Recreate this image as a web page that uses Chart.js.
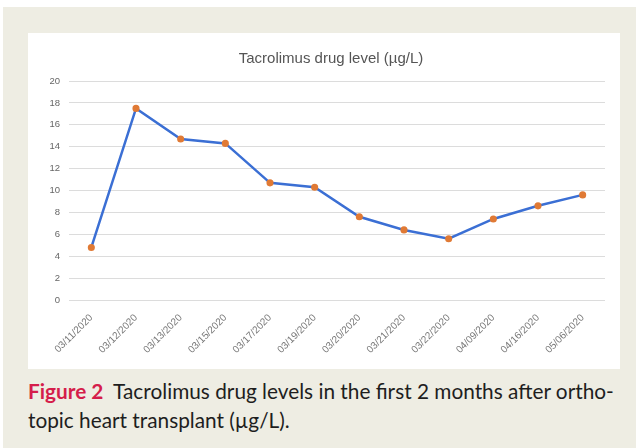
<!DOCTYPE html>
<html>
<head>
<meta charset="utf-8">
<script src="https://cdn.jsdelivr.net/npm/chart.js@4"></script>
<style>
  html, body { margin: 0; padding: 0; background: #fff; }
  #page { position: absolute; left: 3px; top: 7px; width: 633px; height: 441px; background: #eeede3; }
  #panel { position: absolute; left: 28px; top: 33px; width: 592px; height: 336px; background: #fff; }
  #chartTitle { position: absolute; left: 131px; top: 49px; width: 400px; text-align: center; font-family: "Liberation Sans", Arial, sans-serif; font-size: 15px; color: #555; }
  #caption { position: absolute; left: 28px; top: 376px; width: 605px; font-family: Lato, "Open Sans", sans-serif; font-size: 20.8px; line-height: 29px; color: #1e1e1e; }
  #caption b { color: #d51d4b; font-weight: 700; margin-right: 5px; }
</style>
</head>
<body>
<div id="page"></div>
<div id="panel"><canvas id="tacroChart" width="592" height="336"></canvas></div>
<div id="chartTitle">Tacrolimus drug level (µg/L)</div>
<div id="caption"><b>Figure 2</b> Tacrolimus drug levels in the first 2 months after ortho-<br>topic heart transplant (µg/L).</div>
<script>
// sample dates and tacrolimus trough levels
const dates = ["03/11/2020", "03/12/2020", "03/13/2020", "03/15/2020", "03/17/2020", "03/19/2020",
  "03/20/2020", "03/21/2020", "03/22/2020", "04/09/2020", "04/16/2020", "05/06/2020"];
const levels = [4.8, 17.5, 14.7, 14.3, 10.7, 10.3, 7.6, 6.4, 5.6, 7.4, 8.6, 9.6];
const yTicks = [0, 2, 4, 6, 8, 10, 12, 14, 16, 18, 20];

const ctx = document.getElementById("tacroChart");
new Chart(ctx, {
  type: "line",
  data: {
    labels: dates,
    datasets: [{
      label: "Tacrolimus",
      data: levels,
      borderColor: "#3b6fd4",
      borderWidth: 2.5,
      pointBackgroundColor: "#e07a35",
      pointBorderColor: "#e07a35",
      pointRadius: 2.3,
      tension: 0
    }]
  },
  options: {
    responsive: false,
    animation: false,
    layout: { padding: { left: 0, right: 15, top: 48, bottom: 0 } },
    plugins: {
      legend: { display: false },
      tooltip: { enabled: false },
      title: { display: false }
    },
    scales: {
      x: {
        offset: true,
        grid: { display: false },
        border: { display: false },
        ticks: {
          color: "#777",
          font: { family: "Liberation Sans, Arial, sans-serif", size: 10 },
          minRotation: 45,
          maxRotation: 45,
          autoSkip: false,
          padding: 4
        },
        afterFit: (scale) => { scale.height = 69; }
      },
      y: {
        min: 0,
        max: 20,
        afterBuildTicks: (scale) => { scale.ticks = yTicks.map(v => ({ value: v })); },
        grid: { color: "#dcdcdc", drawTicks: false },
        border: { display: false },
        ticks: {
          color: "#666",
          font: { family: "Liberation Sans, Arial, sans-serif", size: 9.5 },
          padding: 9
        },
        afterFit: (scale) => { scale.width = 41; }
      }
    }
  }
});
</script>
</body>
</html>
